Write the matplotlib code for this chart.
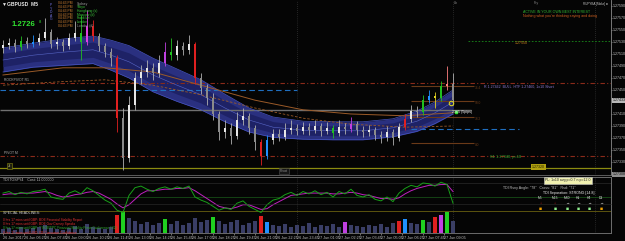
import matplotlib
matplotlib.use("Agg")
import matplotlib.pyplot as plt
import numpy as np

plt.rcParams['font.family'] = ['Liberation Sans', 'DejaVu Sans']

# GBPUSD M5 - candles (one drawn bar per slice)
first_open = 1.27520
closes = [1.27525, 1.27528, 1.27522, 1.27532, 1.27527, 1.27530, 1.27537, 1.27547, 1.27527, 1.27530,
          1.27523, 1.27537, 1.27545, 1.27530, 1.27557, 1.27540, 1.27523, 1.27513, 1.27503, 1.27403,
          1.27337, 1.27425, 1.27470, 1.27480, 1.27487, 1.27478, 1.27495, 1.27513, 1.27508, 1.27523,
          1.27517, 1.27527, 1.27470, 1.27453, 1.27437, 1.27410, 1.27380, 1.27387, 1.27373, 1.27400,
          1.27407, 1.27387, 1.27363, 1.27340, 1.27367, 1.27377, 1.27372, 1.27383, 1.27387, 1.27382,
          1.27388, 1.27383, 1.27390, 1.27382, 1.27387, 1.27378, 1.27388, 1.27385, 1.27393, 1.27383,
          1.27380, 1.27383, 1.27375, 1.27372, 1.27380, 1.27370, 1.27388, 1.27402, 1.27415, 1.27413,
          1.27433, 1.27440, 1.27437, 1.27457, 1.27460, 1.27433]
highs = [1.27533, 1.27537, 1.27535, 1.27540, 1.27538, 1.27542, 1.27545, 1.27570, 1.27552, 1.27538,
         1.27535, 1.27545, 1.27565, 1.27575, 1.27583, 1.27567, 1.27545, 1.27528, 1.27520, 1.27508,
         1.27420, 1.27440, 1.27480, 1.27492, 1.27500, 1.27495, 1.27508, 1.27530, 1.27537, 1.27533,
         1.27530, 1.27542, 1.27530, 1.27478, 1.27460, 1.27445, 1.27415, 1.27400, 1.27395, 1.27413,
         1.27420, 1.27412, 1.27392, 1.27368, 1.27375, 1.27385, 1.27385, 1.27395, 1.27400, 1.27393,
         1.27397, 1.27395, 1.27400, 1.27395, 1.27397, 1.27392, 1.27400, 1.27395, 1.27405, 1.27398,
         1.27390, 1.27392, 1.27388, 1.27382, 1.27390, 1.27385, 1.27395, 1.27410, 1.27425, 1.27423,
         1.27442, 1.27450, 1.27447, 1.27465, 1.27490, 1.27478]
lows = [1.27512, 1.27518, 1.27513, 1.27517, 1.27520, 1.27522, 1.27525, 1.27533, 1.27520, 1.27518,
        1.27515, 1.27518, 1.27532, 1.27500, 1.27525, 1.27532, 1.27515, 1.27505, 1.27490, 1.27380,
        1.27317, 1.27330, 1.27417, 1.27460, 1.27472, 1.27467, 1.27472, 1.27490, 1.27500, 1.27500,
        1.27508, 1.27510, 1.27460, 1.27443, 1.27425, 1.27400, 1.27367, 1.27370, 1.27360, 1.27368,
        1.27392, 1.27377, 1.27350, 1.27325, 1.27335, 1.27360, 1.27365, 1.27367, 1.27377, 1.27375,
        1.27377, 1.27375, 1.27378, 1.27373, 1.27377, 1.27370, 1.27373, 1.27377, 1.27380, 1.27375,
        1.27372, 1.27373, 1.27367, 1.27362, 1.27365, 1.27358, 1.27365, 1.27383, 1.27397, 1.27405,
        1.27408, 1.27428, 1.27420, 1.27432, 1.27450, 1.27425]

# moving-average channel (blue band)
band_idx = [0, 5, 10, 15, 18, 21, 25, 29, 33, 37, 41, 45, 50, 55, 60, 65, 69, 72, 75]
band_mid = [1.27500, 1.27508, 1.27513, 1.27517, 1.27508, 1.27497, 1.27475, 1.27458, 1.27442, 1.27420,
            1.27400, 1.27388, 1.27383, 1.27382, 1.27382, 1.27387, 1.27398, 1.27412, 1.27430]
band_half = [0.00020, 0.00020, 0.00022, 0.00023, 0.00025, 0.00027, 0.00028, 0.00027, 0.00025, 0.00023,
             0.00020, 0.00017, 0.00015, 0.00015, 0.00015, 0.00015, 0.00017, 0.00018, 0.00020]

# slow MAs (brown)
ma_idx = [0, 10, 17, 25, 33, 42, 50, 58, 67, 75]
ma_fast = [1.27475, 1.27487, 1.27487, 1.27480, 1.27458, 1.27433, 1.27417, 1.27410, 1.27407, 1.27412]
ma_slow = [1.27458, 1.27464, 1.27467, 1.27458, 1.27442, 1.27420, 1.27403, 1.27393, 1.27388, 1.27390]

# levels
level_r = 1.27462
level_pivot_m = 1.27340
level_yellow = 1.27320
level_blue = 1.27450
level_grey = 1.27417
level_green = 1.27532
level_blue2 = 1.27385
fib_levels = [1.27457, 1.27432, 1.27405, 1.27362]
fib_labels = ["76.4", "50.0", "38.2", "0.0"]
last_price = 1.27433
low_price = 1.27308

price_ticks = [1.27590, 1.27570, 1.27550, 1.27530, 1.27510, 1.27490, 1.27470, 1.27450,
               1.27410, 1.27390, 1.27370, 1.27350, 1.27330]

# TDI lines
tdi_green = [55, 57, 53, 56, 54, 57, 58, 60, 50, 48, 47, 55, 58, 54, 62, 58, 52, 46, 42, 33,
             30, 52, 62, 64, 60, 57, 61, 63, 60, 63, 61, 64, 50, 46, 43, 38, 33, 36, 34, 42,
             45, 38, 34, 30, 40, 46, 48, 53, 56, 52, 57, 54, 58, 53, 56, 50, 57, 54, 60, 52,
             50, 53, 47, 45, 50, 44, 55, 61, 65, 63, 68, 67, 64, 69, 66, 42]
tdi_magenta = [53, 54, 54, 55, 55, 55, 56, 57, 55, 52, 50, 51, 53, 54, 56, 57, 55, 51, 47, 41,
               36, 40, 47, 54, 58, 58, 59, 60, 60, 61, 61, 62, 58, 53, 48, 43, 38, 36, 35, 37,
               40, 40, 37, 34, 35, 40, 44, 48, 52, 53, 54, 55, 55, 55, 55, 54, 54, 55, 56, 55,
               53, 52, 50, 48, 48, 47, 49, 54, 58, 61, 63, 65, 65, 66, 66, 57]
tdi_levels = [68, 50, 32]

# histogram under the TDI
volumes = [4, 5, 3, 6, 4, 5, 6, 8, 5, 4, 3, 5, 7, 4, 9, 6, 5, 4, 6, 18,
           22, 15, 12, 9, 11, 8, 10, 14, 9, 12, 8, 10, 15, 11, 13, 16, 12, 9, 11, 13,
           8, 10, 12, 17, 11, 8, 7, 9, 6, 8, 7, 10, 6, 8, 7, 9, 6, 11, 8, 7,
           6, 8, 7, 9, 6, 10, 12, 14, 10, 9, 13, 11, 16, 18, 21, 12]

tick_labels = ["26 Jun 2017", "26 Jun 06:25", "26 Jun 07:45", "26 Jun 09:05", "26 Jun 10:25",
               "26 Jun 11:45", "26 Jun 13:05", "26 Jun 14:25", "26 Jun 15:45", "26 Jun 17:05",
               "26 Jun 18:25", "26 Jun 19:45", "26 Jun 21:05", "26 Jun 22:25", "26 Jun 23:45",
               "27 Jun 01:05", "27 Jun 02:25", "27 Jun 03:45", "27 Jun 05:05", "27 Jun 06:25",
               "27 Jun 07:45", "27 Jun 09:05"]

sessions = ["Sydney", "Tokyo", "Hongkong (s)", "Moscow (d)", "Frankfurt", "London", "London (d)"]
session_colors = ["#a0a0a0", "#3cc83c", "#3cc83c", "#3cc83c", "#3cc83c", "#3cc83c", "#909090"]
headlines = ["0 hrs 17 mins until GBP: BOE Financial Stability Report",
             "0 hrs 17 mins until GBP: BOE Gov Carney Speaks",
             "0 hrs 17 mins until GBP: ** BOE/FPC Financial Stability Press Conference (1/2)",
             "0 hrs 17 mins until USD: CB Consumer Confidence"]
headline_colors = ["#e03030", "#e03030", "#30b030", "#e03030"]

# coloured candles / bars (signal highlights)
candle_hl = {3: "#20c020", 5: "#2090ff", 13: "#20c020", 14: "#e040e0", 15: "#e02020", 19: "#e02020",
             27: "#c040e0", 28: "#20c020", 32: "#e02020", 43: "#e02020", 44: "#2090ff", 55: "#20c020",
             58: "#c040e0", 67: "#e02020", 70: "#20c020", 71: "#2090ff", 72: "#e0d020", 73: "#20c020",
             74: "#ff8080"}
vol_hl = {19: "#e02020", 20: "#20d020", 27: "#20d020", 35: "#20d020", 43: "#e02020", 44: "#2090ff",
          57: "#c040e0", 66: "#e02020", 67: "#2090ff", 70: "#20d020", 72: "#e02020", 73: "#c040e0",
          74: "#20d020"}

BG = "#050505"
W, H = 625, 241


def fx(x):
    return x / W


def fy(y):
    return 1 - y / H


fig = plt.figure(figsize=(6.25, 2.41), dpi=100, facecolor=BG)
ax = fig.add_axes([0, fy(175), fx(611), 175 / H], facecolor=BG)
sub = fig.add_axes([0, fy(233), fx(611), 56 / H], facecolor=BG)
vol = sub.twinx()

xmax = 611 / 6 - 0.5
n = len(closes)
xs = np.arange(n)
opens = [first_open] + closes[:-1]

# band
bx = np.array(band_idx)
bm = np.array(band_mid)
bh = np.array(band_half)
ax.fill_between(bx, bm - bh, bm + bh, color="#2a3080", lw=0, zorder=1)
ax.fill_between(bx, bm - bh * 0.55, bm + bh * 0.55, color="#1e2266", lw=0, zorder=1)
ax.plot(bx, bm + bh, color="#4654c0", lw=0.5, zorder=2)
ax.plot(bx, bm - bh, color="#4654c0", lw=0.5, zorder=2)
ax.plot(bx, bm, color="#5866c8", lw=0.4, zorder=2)

# MAs
ax.plot(ma_idx, ma_fast, color="#9a5a28", lw=0.7, zorder=2)
ax.plot(ma_idx, ma_slow, color="#9a5a28", lw=0.6, ls=(0, (3, 2)), zorder=2)

# horizontal levels
ax.axhline(level_r, color="#8a2a1a", lw=0.8, ls=(0, (4, 2, 1, 2)), zorder=1)
ax.axhline(level_pivot_m, color="#8a2a1a", lw=0.8, ls=(0, (4, 2, 1, 2)), zorder=1)
ax.axhline(level_yellow, color="#8c8c10", lw=0.9, zorder=1)
ax.hlines(level_blue, -0.5, 49, color="#1f6fc0", lw=0.8, ls=(0, (5, 3)), zorder=1)
ax.hlines(level_grey, -0.5, 78, color="#707070", lw=1.0, zorder=1)
ax.hlines(level_green, 77.5, xmax, color="#1a8a1a", lw=0.6, ls=(0, (2, 2)), zorder=1)
ax.hlines(level_blue2, 68, 86, color="#1f6fc0", lw=0.8, ls=(0, (5, 3)), zorder=1)
for lv, lab in zip(fib_levels, fib_labels):
    ax.hlines(lv, 68, 78.5, color="#6a3a18", lw=0.8, zorder=1)
    ax.text(78.6, lv, lab, color="#6a3a18", fontsize=2.3, va="top", ha="left")

# vertical separators
for vx in [49, 75, 98.7]:
    ax.axvline(vx, color="#444444", lw=0.5, ls=(0, (1, 2)), zorder=0)
    sub.axvline(vx, color="#444444", lw=0.5, ls=(0, (1, 2)), zorder=0)

# candles
for i in range(n):
    o, c = opens[i], closes[i]
    up = c >= o
    col = candle_hl.get(i, "#e6e6e6" if up else "#8a8a8a")
    ax.vlines(i, lows[i], highs[i], color=col if i in candle_hl else "#b0b0b0", lw=0.6, zorder=3)
    ax.bar(i, max(abs(c - o), 0.000012), bottom=min(o, c), width=0.42, color=col,
           lw=0, zorder=4)

ax.plot([74.6], [1.27428], marker="o", ms=3.2, mfc="none", mec="#d8d020", mew=0.8, zorder=5)
ax.plot([75.5], [1.27413], marker="s", ms=1.6, color="#30e030", zorder=5)

ax.set_xlim(-0.5, xmax)
ax.set_ylim(1.273083, 1.27600)
ax.yaxis.tick_right()
ax.set_yticks(price_ticks)
ax.set_yticklabels([f"{p:.5f}" for p in price_ticks])
ax.tick_params(axis="y", colors="#c0c0c0", labelsize=2.6, length=1.0, width=0.4, pad=0.6)
ax.set_xticks([])
for s in ["left", "top"]:
    ax.spines[s].set_visible(False)
ax.spines["right"].set_color("#8a8a8a")
ax.spines["right"].set_linewidth(0.6)
ax.spines["bottom"].set_color("#6a6a6a")
ax.spines["bottom"].set_linewidth(0.6)

# current price / low boxes on the right scale
ax.text(xmax + 0.25, last_price, f"{last_price:.5f}", fontsize=2.6, color="#111111",
        va="center", ha="left", clip_on=False, zorder=6,
        bbox=dict(boxstyle="square,pad=0.12", fc="#b8b8b8", ec="none"))
ax.text(xmax + 0.25, low_price + 0.000018, f"{low_price:.5f}", fontsize=2.6, color="#111111",
        va="center", ha="left", clip_on=False, zorder=6,
        bbox=dict(boxstyle="square,pad=0.12", fc="#909090", ec="none"))

# TDI
sub.plot(xs, tdi_magenta, color="#c020c0", lw=0.7, zorder=3)
sub.plot(xs, tdi_green, color="#18a018", lw=0.7, zorder=3)
sub.axhline(tdi_levels[0], color="#2a2a2a", lw=0.5)
sub.axhline(tdi_levels[1], color="#1a5a1a", lw=0.5)
sub.axhline(tdi_levels[2], color="#6a6010", lw=0.6)
sub.set_xlim(-0.5, xmax)
sub.set_ylim(3.7, 75.7)
sub.set_yticks([])

vcols = [vol_hl.get(i, "#3a3e66") for i in range(n)]
vol.bar(xs, volumes, width=0.7, color=vcols, lw=0, zorder=1)
vol.set_ylim(0, 56)
vol.set_yticks([])
sub.set_zorder(vol.get_zorder() + 1)
sub.patch.set_visible(False)
vol.set_facecolor(BG)

tick_pos = np.arange(len(tick_labels)) * 3.5
sub.set_xticks(tick_pos)
sub.set_xticklabels(tick_labels)
for t in sub.get_xticklabels():
    t.set_ha("left")
sub.tick_params(axis="x", colors="#c0c0c0", labelsize=2.7, length=1.5, width=0.4, pad=0.8)
for a in (sub, vol):
    a.spines["left"].set_visible(False)
    for s in ["top", "right", "bottom"]:
        a.spines[s].set_color("#6a6a6a")
        a.spines[s].set_linewidth(0.6)
vol.spines["right"].set_color("#8a8a8a")

# separator between TDI and lower window
fig.add_artist(plt.Line2D([0, fx(611)], [fy(204), fy(204)], color="#303030", lw=0.4))

# ---- texts ----
fig.text(fx(2), fy(4), "\u25bcGBPUSD  M5", color="#e8e8e8", fontsize=3.6, weight="bold", va="center")
fig.text(fx(12), fy(24), "1.2726", color="#30e030", fontsize=5.6, weight="bold", va="center")
fig.text(fx(39), fy(22), "8", color="#30e030", fontsize=3, va="center")
for k, ch in enumerate("PYDAG"):
    fig.text(fx(50), fy(5 + 3.6 * k), ch, color="#7070e0", fontsize=2.4, va="center")
for k, (nm, cl) in enumerate(zip(sessions, session_colors)):
    yy = 3.5 + 3.7 * k
    fig.text(fx(58), fy(yy), "04:43 PM", color="#d08030", fontsize=2.4, va="center")
    fig.text(fx(77), fy(yy), nm, color=cl, fontsize=2.4, va="center")

fig.text(fx(523), fy(12), "ACTIVE IN YOUR OWN BEST INTEREST", color="#30b030", fontsize=2.6, va="center")
fig.text(fx(523), fy(16.5), "Nothing what you're thinking saying and doing", color="#d06020",
         fontsize=2.6, va="center")
fig.text(fx(583), fy(4), "RUPYBA [Make] \u25a1", color="#c0c0c0", fontsize=2.2, va="center")
fig.text(fx(454), fy(3), "Lb", color="#808080", fontsize=2.6, va="center")
fig.text(fx(534), fy(3), "Fry", color="#808080", fontsize=2.6, va="center")
fig.text(fx(515), fy(43), "1.27550", color="#d08020", fontsize=2.6, va="center")

fig.text(fx(4), fy(80), "ROCKPIVOT R1", color="#b0b0b0", fontsize=2.4, va="center")
fig.text(fx(4), fy(153), "PIVOT M", color="#b0b0b0", fontsize=2.4, va="center")
fig.text(fx(8), fy(166), "Jz", color="#d0d0a0", fontsize=2.4, va="center",
         bbox=dict(boxstyle="square,pad=0.3", fc="#202010", ec="#8c8c10", lw=0.4))
fig.text(fx(484), fy(87), "R 1.27462  BULL  HTF 1.27460, 1x10 Short", color="#8a7ad0",
         fontsize=2.6, va="center")
fig.text(fx(452), fy(112), "2365 (5pips)", color="#f0f0f0", fontsize=2.6, va="center")
fig.text(fx(490), fy(157), "S1 1.27340, p=10", color="#30b030", fontsize=2.8, va="center")
fig.text(fx(280), fy(171), "Pivot", color="#909090", fontsize=2.6, va="center",
         bbox=dict(boxstyle="square,pad=0.2", fc="#151515", ec="#505050", lw=0.4))
fig.text(fx(532), fy(167), "1.27320", color="#202000", fontsize=2.6, va="center",
         bbox=dict(boxstyle="square,pad=0.2", fc="#b0a010", ec="none"))

fig.text(fx(3), fy(180), "TDI TOSPY4    Cost: 11.000000", color="#c0c0c0", fontsize=2.6, va="center")
fig.text(fx(545), fy(180.5), "PL: 1x10 avg p=0.7 n p=12.0", color="#202020", fontsize=2.5, va="center",
         bbox=dict(boxstyle="square,pad=0.35", fc="#f0f0b0", ec="#c0c0c0", lw=0.4))
fig.text(fx(503), fy(188), "TDI Rsny Angle: \"78\"   Cross: \"81\"   Rsd: \"71\"", color="#c0c0c0",
         fontsize=2.6, va="center")
fig.text(fx(543), fy(193), "TDI Separation: STRONG [14.8]", color="#f0f0f0", fontsize=2.6, va="center")
tf_names = ["M5", "M15", "M30", "H1", "H4", "D1"]
tf_x = [540, 555, 567, 578, 589, 601]
tf_arrow = ["\u2193", "\u2193", "\u2192", "\u2192", "\u2192", "\u2192"]
tf_arrow_col = ["#e02020", "#e02020", "#e0e0e0", "#e0e0e0", "#e0e0e0", "#e0e0e0"]
tf_box = ["#f0a000", "#90f090", "#90f090", "#90f090", "#90f090", "#f0a000"]
for nm, xx, ar, ac, bc in zip(tf_names, tf_x, tf_arrow, tf_arrow_col, tf_box):
    fig.text(fx(xx), fy(198), nm, color="#e0e0e0", fontsize=2.4, va="center", ha="center")
    fig.text(fx(xx), fy(203), ar, color=ac, fontsize=3, va="center", ha="center")
    fig.text(fx(xx), fy(209), "\u25a0", color=bc, fontsize=3.6, va="center", ha="center")

fig.text(fx(3), fy(213), "SPECIAL HEADLINES:", color="#d0d0d0", fontsize=2.6, va="center")
for k, (hl, hc) in enumerate(zip(headlines, headline_colors)):
    fig.text(fx(3), fy(220.5 + 4 * k), hl, color=hc, fontsize=2.3, va="center")

fig.savefig("out.png", dpi=100, facecolor=BG)
